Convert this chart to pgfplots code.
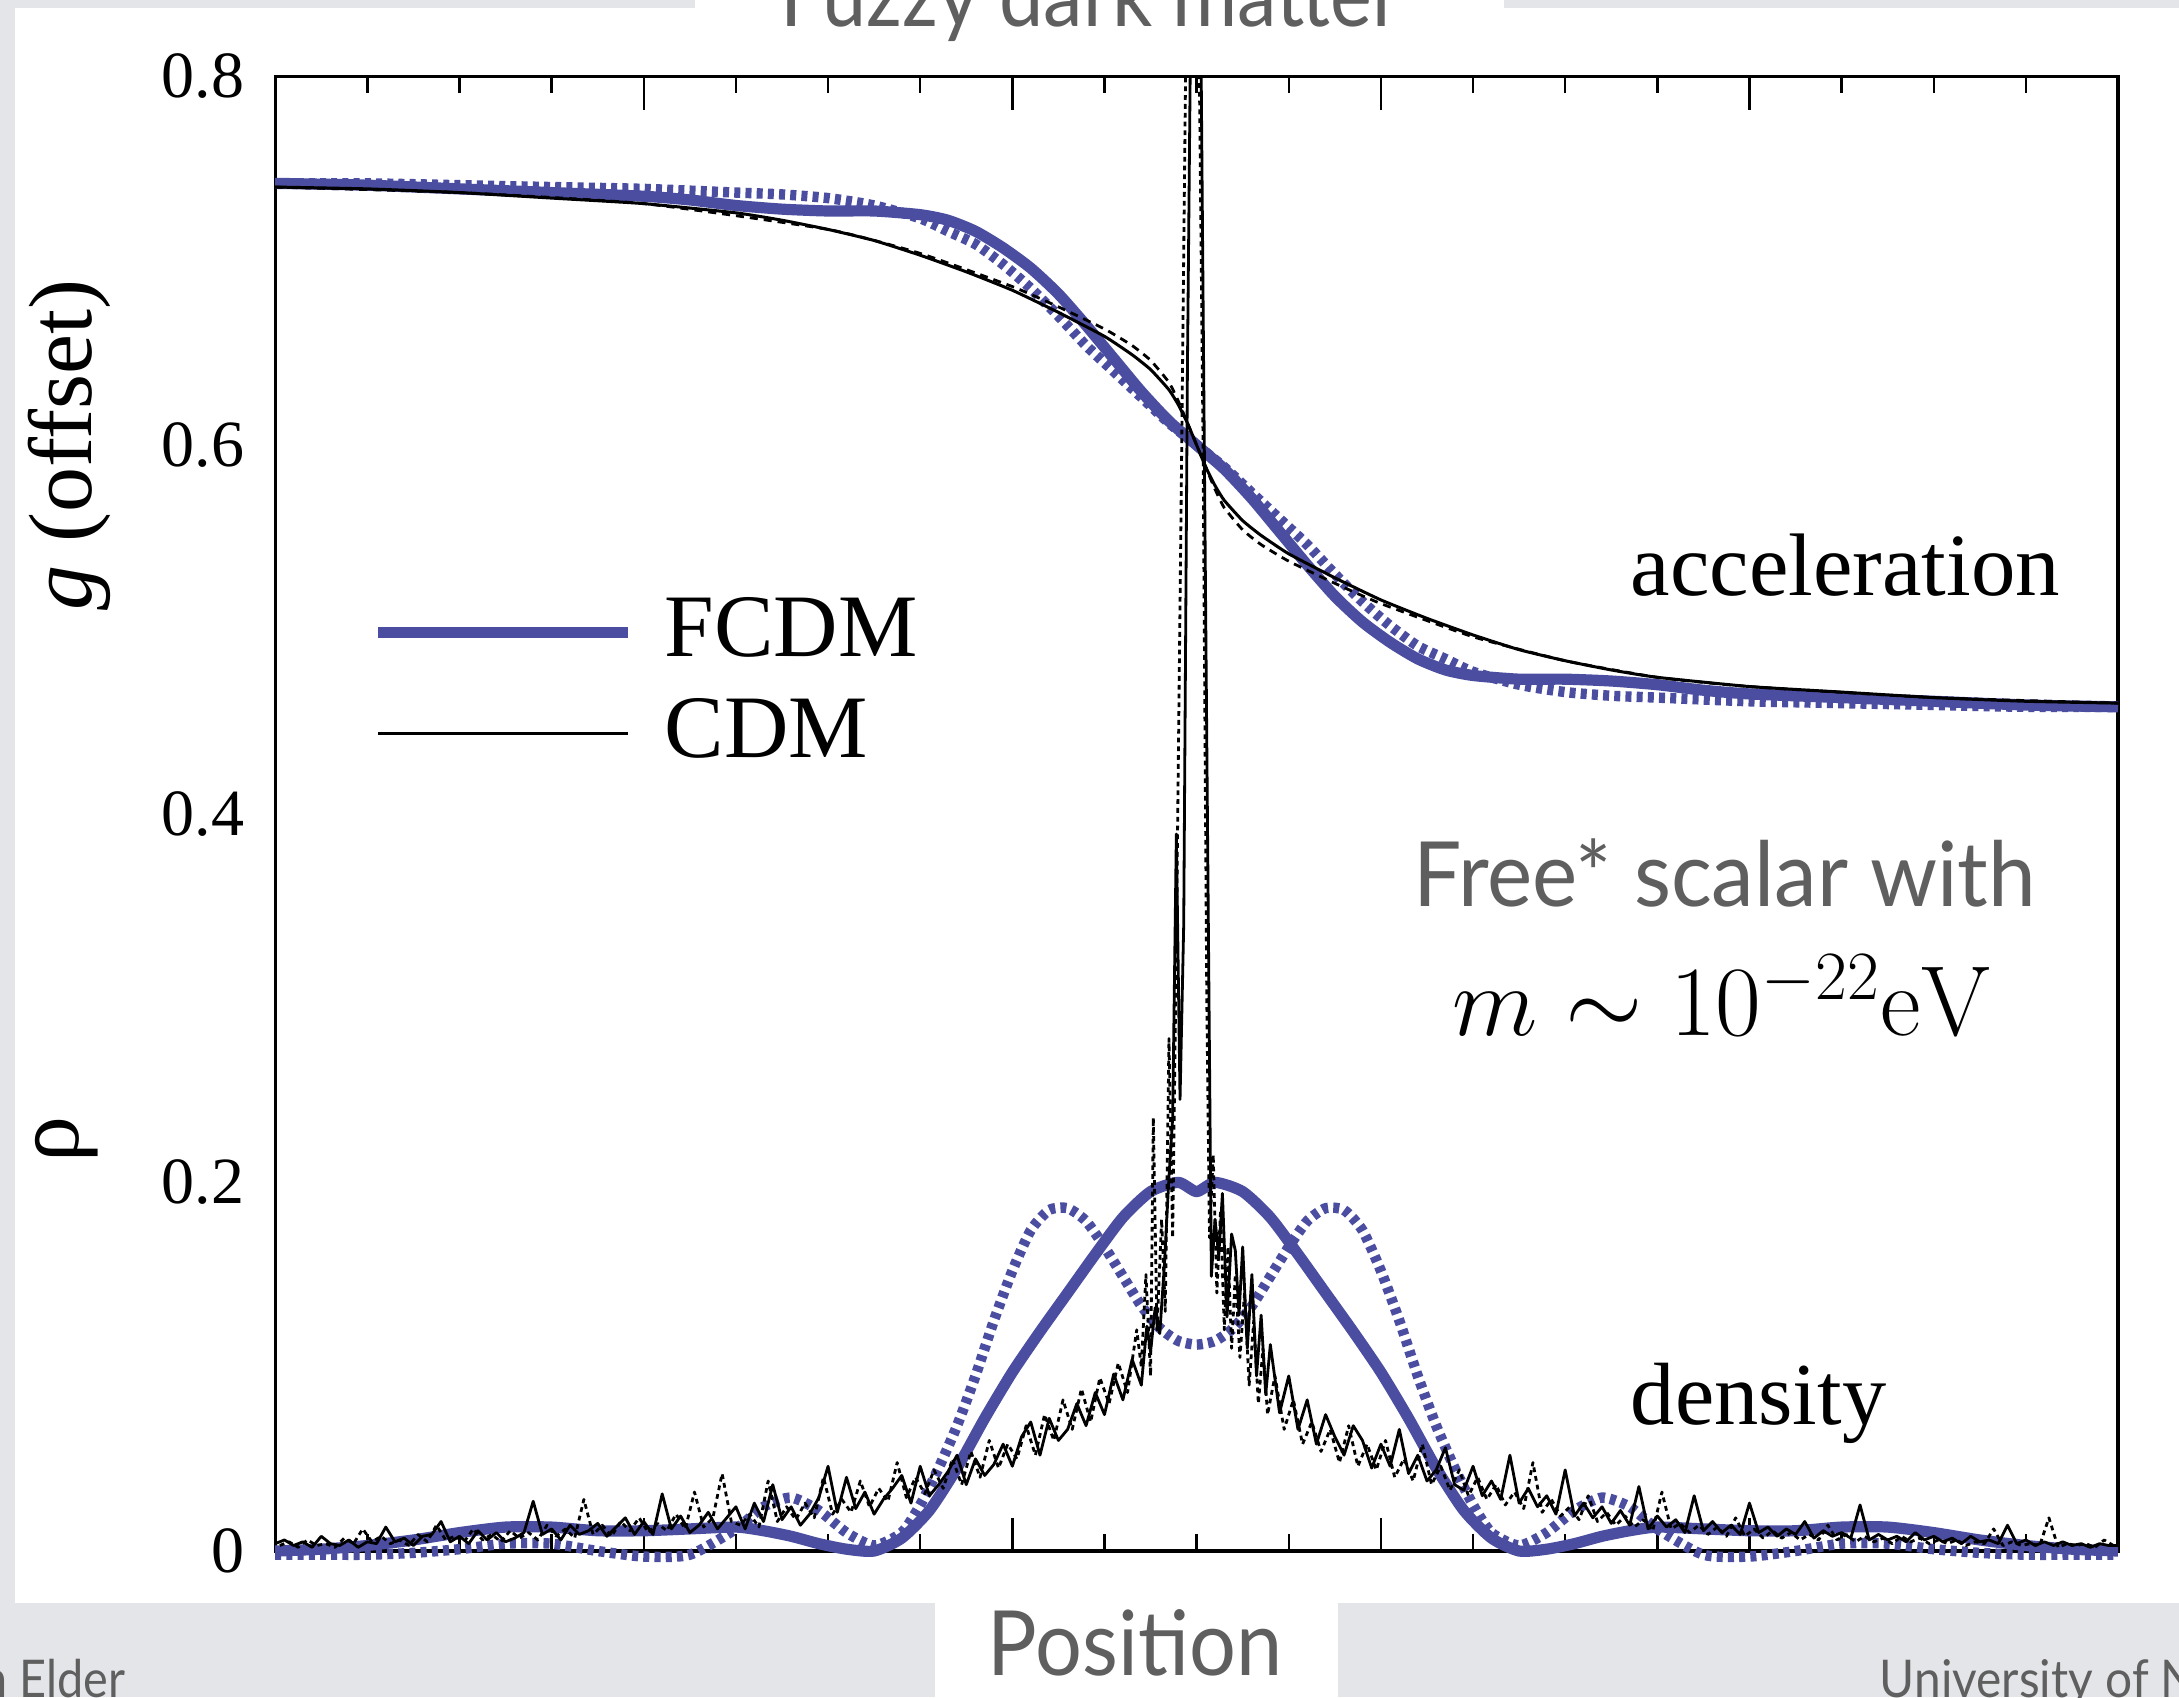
\documentclass[border=0pt]{standalone}
\usepackage[no-math]{fontspec}
\setmainfont{Liberation Serif}
\newfontfamily\slidefont{Lato}
\DeclareSymbolFont{operators}{OT1}{cmr}{m}{n}
\usepackage{pgfplots}
\pgfplotsset{compat=1.18}
\definecolor{fblue}{RGB}{75,78,160}
\definecolor{bggray}{RGB}{227,229,232}
\definecolor{slidetext}{RGB}{95,95,95}
\begin{document}
\begin{tikzpicture}[x=1pt,y=1pt]
\useasboundingbox (0,0) rectangle (544.75,424.25);
\clip (0,0) rectangle (544.75,424.25);
\fill[bggray] (0,0) rectangle (544.75,424.25);
\fill[white] (3.75,23.5) rectangle (544.75,422.25);
\fill[white] (173.75,421) rectangle (376,424.25);
\fill[white] (233.8,0) rectangle (334.6,23.6);
\node[anchor=base, text=slidetext, font=\slidefont\fontsize{22}{22}\selectfont, inner sep=0pt] at (272.75,417.5) {\scalebox{0.9}[1]{Fuzzy dark matter}};
\node[anchor=base, text=slidetext, font=\slidefont\fontsize{22.5}{22.5}\selectfont, inner sep=0pt] at (283.75,5.5) {\scalebox{0.92}[1]{Position}};
\node[anchor=base east, text=slidetext, font=\slidefont\fontsize{13}{13}\selectfont, inner sep=0pt] at (31.5,0) {\scalebox{0.9}[1]{Benjamin Elder}};
\node[anchor=base west, text=slidetext, font=\slidefont\fontsize{13}{13}\selectfont, inner sep=0pt] at (469.75,0) {\scalebox{0.92}[1]{University of Nottingham}};
\begin{axis}[
  at={(68.8pt,36.5pt)}, anchor=south west,
  scale only axis, width=460.7pt, height=368.65pt,
  xmin=0, xmax=20, ymin=0, ymax=0.8,
  clip=false,
  axis line style={line width=0.8pt},
  tick align=inside,
  every tick/.style={black, line width=0.6pt},
  major tick length=8.3pt, minor tick length=4.2pt,
  xtick={4,8,12,16}, xticklabels={},
  minor xtick={1,2,3,5,6,7,9,10,11,13,14,15,17,18,19},
  ytick={0,0.2,0.4,0.6,0.8}, yticklabels={0,0.2,0.4,0.6,0.8},
  ytick style={draw=none},
  minor ytick={0.05,0.1,0.15,0.2,0.25,0.3,0.35,0.4,0.45,0.5,0.55,0.6,0.65,0.7,0.75},
  yticklabel style={font=\fontsize{16.5}{16.5}\selectfont, anchor=east, inner sep=0pt, xshift=-7.6pt},
  every axis plot/.append style={line join=round},
]
% ---------- acceleration (FCDM) ----------
\addplot[fblue, line width=2.8pt, smooth, tension=0.4] coordinates {
(0,0.742) (1,0.741) (2,0.739) (3,0.737) (4,0.735) (4.5,0.733) (5,0.730) (5.5,0.728) (6,0.727) (6.5,0.727) (7,0.725) (7.3,0.722) (7.6,0.716) (7.9,0.707) (8.2,0.696) (8.5,0.682) (8.8,0.665) (9.1,0.647) (9.4,0.629) (9.7,0.613) (10,0.600)
(10.3,0.587) (10.6,0.571) (10.9,0.553) (11.2,0.535) (11.5,0.518) (11.8,0.504) (12.1,0.493) (12.4,0.484) (12.7,0.478) (13,0.475) (13.5,0.473) (14,0.473) (14.5,0.472) (15,0.470) (15.5,0.467) (16,0.465) (17,0.463) (18,0.461) (19,0.459) (20,0.458)};
\addplot[fblue, line width=2.6pt, dash pattern=on 1.5pt off 1.3pt, smooth, tension=0.4] coordinates {
(0,0.742) (1,0.742) (2,0.741) (3,0.740) (4,0.739) (5,0.737) (5.5,0.736) (6,0.734) (6.5,0.730) (7,0.723) (7.3,0.716) (7.6,0.709) (7.9,0.698) (8.2,0.685) (8.5,0.670) (8.8,0.654) (9.1,0.640) (9.4,0.626) (9.7,0.612) (10,0.600)
(10.3,0.588) (10.6,0.574) (10.9,0.560) (11.2,0.546) (11.5,0.530) (11.8,0.515) (12.1,0.502) (12.4,0.491) (12.7,0.484) (13,0.477) (13.5,0.470) (14,0.466) (14.5,0.464) (15,0.463) (16,0.461) (17,0.460) (18,0.459) (19,0.458) (20,0.458)};
% ---------- density (FCDM) ----------
\addplot[fblue, line width=2.8pt, smooth, tension=0.4] coordinates {
(0,0.000) (0.5,0.001) (1,0.003) (1.5,0.006) (2,0.010) (2.5,0.013) (3,0.013) (3.5,0.011) (4,0.011) (4.5,0.012) (5,0.013) (5.3,0.011) (5.6,0.008) (5.9,0.004) (6.2,0.001) (6.5,0.000) (6.8,0.007) (7.1,0.022) (7.4,0.045) (7.7,0.072) (8,0.097) (8.3,0.119) (8.6,0.140) (8.9,0.161) (9.2,0.181) (9.5,0.195) (9.8,0.200) (10,0.195)
(10.2,0.200) (10.5,0.195) (10.8,0.181) (11.1,0.161) (11.4,0.140) (11.7,0.119) (12,0.097) (12.3,0.072) (12.6,0.045) (12.9,0.022) (13.2,0.007) (13.5,0.000) (13.8,0.001) (14.1,0.004) (14.4,0.008) (14.7,0.011) (15,0.013) (15.5,0.012) (16,0.011) (16.5,0.011) (17,0.013) (17.5,0.013) (18,0.010) (18.5,0.006) (19,0.003) (19.5,0.001) (20,0.000)};
\addplot[fblue, line width=2.6pt, dash pattern=on 1.5pt off 1.3pt, smooth, tension=0.4] coordinates {
(0,-0.002) (0.5,-0.002) (1,-0.002) (1.5,-0.001) (2,0.001) (2.5,0.004) (3,0.004) (3.5,0.000) (4,-0.003) (4.5,-0.002) (5,0.012) (5.3,0.024) (5.6,0.029) (5.9,0.022) (6.2,0.010) (6.5,0.003) (6.8,0.010) (7,0.025) (7.2,0.045) (7.4,0.068) (7.6,0.095) (7.8,0.125) (8,0.152) (8.2,0.174) (8.4,0.185) (8.6,0.186) (8.8,0.179) (9,0.165) (9.2,0.149) (9.4,0.133) (9.6,0.121) (9.8,0.114) (10,0.112)
(10.2,0.114) (10.4,0.121) (10.6,0.133) (10.8,0.149) (11,0.165) (11.2,0.179) (11.4,0.186) (11.6,0.185) (11.8,0.174) (12,0.152) (12.2,0.125) (12.4,0.095) (12.6,0.068) (12.8,0.045) (13,0.025) (13.2,0.010) (13.5,0.003) (13.8,0.010) (14.1,0.022) (14.4,0.029) (14.7,0.024) (15,0.012) (15.5,-0.002) (16,-0.003) (16.5,0.000) (17,0.004) (17.5,0.004) (18,0.001) (18.5,-0.001) (19,-0.002) (19.5,-0.002) (20,-0.002)};
% ---------- acceleration (CDM) ----------
\addplot[black, line width=0.75pt, smooth, tension=0.3] coordinates {
(0,0.740) (1,0.739) (2,0.737) (3,0.734) (4,0.731) (5,0.726) (5.5,0.722) (6,0.717) (6.5,0.711) (7,0.703) (7.5,0.694) (8,0.684) (8.5,0.672) (9,0.659) (9.3,0.649) (9.5,0.641) (9.7,0.630) (9.8,0.622) (9.9,0.612) (10,0.600) (10.1,0.588) (10.2,0.578) (10.3,0.570) (10.5,0.559) (10.7,0.551) (11,0.541) (11.5,0.528) (12,0.516) (12.5,0.506) (13,0.497) (13.5,0.489) (14,0.483) (14.5,0.478) (15,0.474) (16,0.469) (17,0.466) (18,0.463) (19,0.461) (20,0.460)};
\addplot[black, line width=0.7pt, dash pattern=on 2pt off 1.5pt, smooth, tension=0.3] coordinates {
(0,0.740) (2,0.737) (4,0.731) (6,0.717) (7,0.704) (8,0.686) (8.5,0.675) (9,0.663) (9.3,0.654) (9.5,0.646) (9.7,0.634) (9.8,0.624) (9.9,0.612) (10,0.600) (10.1,0.588) (10.2,0.576) (10.3,0.566) (10.5,0.554) (10.7,0.546) (11,0.537) (11.5,0.525) (12,0.514) (13,0.496) (14,0.483) (15,0.474) (16,0.469) (18,0.463) (20,0.460)};
% ---------- density (CDM) ----------
\addplot[black, line width=0.7pt] coordinates {
(0.0,0.004) (0.1,0.006) (0.2,0.003) (0.3,0.005) (0.4,0.002) (0.5,0.008) (0.6,0.004) (0.7,0.003) (0.8,0.006) (0.9,0.002) (1.0,0.005) (1.1,0.004) (1.2,0.013) (1.3,0.005) (1.4,0.007) (1.5,0.003) (1.6,0.008) (1.7,0.009) (1.8,0.016) (1.9,0.005) (2.0,0.008) (2.1,0.004) (2.2,0.011) (2.3,0.006) (2.4,0.010) (2.5,0.005) (2.6,0.007) (2.7,0.010) (2.8,0.027) (2.9,0.009) (3.0,0.012) (3.1,0.006) (3.2,0.014) (3.3,0.009) (3.4,0.011) (3.5,0.015) (3.6,0.008) (3.7,0.013) (3.8,0.018) (3.9,0.009) (4.0,0.016) (4.1,0.009) (4.2,0.031) (4.3,0.012) (4.4,0.019) (4.5,0.010) (4.6,0.014) (4.7,0.021) (4.8,0.012) (4.9,0.018) (5.0,0.024) (5.1,0.012) (5.2,0.026) (5.3,0.016) (5.4,0.036) (5.5,0.017) (5.6,0.024) (5.7,0.014) (5.8,0.020) (5.9,0.029) (6.0,0.046) (6.1,0.021) (6.2,0.040) (6.3,0.023) (6.4,0.032) (6.5,0.020) (6.6,0.028) (6.7,0.034) (6.8,0.041) (6.9,0.026) (7.0,0.046) (7.1,0.030) (7.2,0.036) (7.3,0.043) (7.4,0.052) (7.5,0.036) (7.6,0.050) (7.7,0.041) (7.8,0.047) (7.9,0.058) (8.0,0.046) (8.1,0.062) (8.2,0.070) (8.3,0.052) (8.4,0.072) (8.5,0.060) (8.6,0.066) (8.7,0.080) (8.8,0.068) (8.9,0.086) (9.0,0.074) (9.1,0.096) (9.2,0.082) (9.3,0.104) (9.4,0.090)
(9.46,0.122) (9.50,0.108) (9.55,0.132) (9.60,0.118) (9.65,0.155) (9.70,0.203) (9.74,0.235) (9.78,0.389) (9.82,0.245) (9.86,0.340) (9.90,0.640) (9.93,0.800) (10.05,0.800) (10.10,0.500) (10.16,0.149) (10.20,0.180) (10.24,0.160) (10.28,0.194) (10.33,0.127) (10.38,0.172) (10.42,0.163) (10.46,0.128) (10.50,0.165) (10.55,0.110) (10.60,0.150) (10.65,0.095) (10.70,0.128) (10.75,0.085)
(10.8,0.112) (10.9,0.075) (11.0,0.095) (11.1,0.066) (11.2,0.082) (11.3,0.058) (11.4,0.074) (11.5,0.062) (11.6,0.052) (11.7,0.068) (11.8,0.060) (11.9,0.045) (12.0,0.058) (12.1,0.046) (12.2,0.066) (12.3,0.042) (12.4,0.052) (12.5,0.038) (12.6,0.044) (12.7,0.056) (12.8,0.036) (12.9,0.033) (13.0,0.046) (13.1,0.030) (13.2,0.038) (13.3,0.028) (13.4,0.052) (13.5,0.026) (13.6,0.034) (13.7,0.024) (13.8,0.030) (13.9,0.020) (14.0,0.044) (14.1,0.019) (14.2,0.026) (14.3,0.018) (14.4,0.024) (14.5,0.015) (14.6,0.022) (14.7,0.014) (14.8,0.035) (14.9,0.012) (15.0,0.019) (15.1,0.013) (15.2,0.017) (15.3,0.010) (15.4,0.030) (15.5,0.011) (15.6,0.016) (15.7,0.010) (15.8,0.014) (15.9,0.009) (16.0,0.026) (16.1,0.010) (16.2,0.013) (16.3,0.008) (16.4,0.012) (16.5,0.009) (16.6,0.016) (16.7,0.007) (16.8,0.011) (16.9,0.008) (17.0,0.010) (17.1,0.007) (17.2,0.025) (17.3,0.006) (17.4,0.009) (17.5,0.006) (17.6,0.008) (17.7,0.005) (17.8,0.010) (17.9,0.006) (18.0,0.008) (18.1,0.005) (18.2,0.007) (18.3,0.004) (18.4,0.008) (18.5,0.005) (18.6,0.006) (18.7,0.004) (18.8,0.014) (18.9,0.004) (19.0,0.006) (19.1,0.003) (19.2,0.005) (19.3,0.003) (19.4,0.005) (19.5,0.003) (19.6,0.004) (19.7,0.002) (19.8,0.004) (19.9,0.003) (20.0,0.003)};
\addplot[black, line width=0.7pt, dash pattern=on 1.2pt off 1pt] coordinates {
(0.05,0.003) (0.15,0.005) (0.25,0.002) (0.35,0.006) (0.45,0.003) (0.55,0.004) (0.65,0.002) (0.75,0.007) (0.85,0.004) (0.95,0.012) (1.05,0.005) (1.15,0.008) (1.25,0.004) (1.35,0.006) (1.45,0.003) (1.55,0.009) (1.65,0.005) (1.75,0.014) (1.85,0.006) (1.95,0.008) (2.05,0.005) (2.15,0.012) (2.25,0.006) (2.35,0.009) (2.45,0.005) (2.55,0.011) (2.65,0.007) (2.75,0.010) (2.85,0.006) (2.95,0.014) (3.05,0.008) (3.15,0.012) (3.25,0.007) (3.35,0.028) (3.45,0.009) (3.55,0.014) (3.65,0.008) (3.75,0.016) (3.85,0.011) (3.95,0.018) (4.05,0.010) (4.15,0.015) (4.25,0.011) (4.35,0.020) (4.45,0.012) (4.55,0.032) (4.65,0.013) (4.75,0.018) (4.85,0.042) (4.95,0.016) (5.05,0.014) (5.15,0.020) (5.25,0.013) (5.35,0.038) (5.45,0.016) (5.55,0.024) (5.65,0.017) (5.75,0.026) (5.85,0.018) (5.95,0.040) (6.05,0.020) (6.15,0.028) (6.25,0.021) (6.35,0.038) (6.45,0.024) (6.55,0.034) (6.65,0.027) (6.75,0.048) (6.85,0.029) (6.95,0.040) (7.05,0.031) (7.15,0.044) (7.25,0.034) (7.35,0.050) (7.45,0.036) (7.55,0.054) (7.65,0.040) (7.75,0.060) (7.85,0.045) (7.95,0.058) (8.05,0.050) (8.15,0.068) (8.25,0.052) (8.35,0.074) (8.45,0.060) (8.55,0.082) (8.65,0.066) (8.75,0.088) (8.85,0.070) (8.95,0.094) (9.05,0.080) (9.15,0.102) (9.25,0.086) (9.35,0.120)
(9.40,0.100) (9.45,0.150) (9.50,0.095) (9.53,0.235) (9.57,0.120) (9.62,0.180) (9.66,0.130) (9.70,0.278) (9.74,0.170) (9.78,0.330) (9.83,0.560) (9.88,0.800) (10.03,0.800) (10.07,0.600) (10.11,0.300) (10.14,0.170) (10.18,0.215) (10.22,0.140) (10.26,0.185) (10.30,0.120) (10.34,0.165) (10.38,0.110) (10.42,0.150) (10.47,0.105) (10.52,0.140) (10.57,0.090) (10.62,0.125) (10.67,0.080) (10.72,0.110) (10.77,0.074)
(10.85,0.095) (10.95,0.066) (11.05,0.082) (11.15,0.058) (11.25,0.070) (11.35,0.054) (11.45,0.066) (11.55,0.048) (11.65,0.068) (11.75,0.046) (11.85,0.058) (11.95,0.044) (12.05,0.060) (12.15,0.040) (12.25,0.050) (12.35,0.038) (12.45,0.058) (12.55,0.036) (12.65,0.046) (12.75,0.033) (12.85,0.044) (12.95,0.030) (13.05,0.040) (13.15,0.028) (13.25,0.036) (13.35,0.025) (13.45,0.032) (13.55,0.023) (13.65,0.048) (13.75,0.021) (13.85,0.028) (13.95,0.019) (14.05,0.024) (14.15,0.017) (14.25,0.030) (14.35,0.016) (14.45,0.021) (14.55,0.014) (14.65,0.019) (14.75,0.013) (14.85,0.017) (14.95,0.011) (15.05,0.032) (15.15,0.012) (15.25,0.015) (15.35,0.010) (15.45,0.014) (15.55,0.009) (15.65,0.013) (15.75,0.008) (15.85,0.018) (15.95,0.008) (16.05,0.012) (16.15,0.007) (16.25,0.011) (16.35,0.007) (16.45,0.010) (16.55,0.006) (16.65,0.009) (16.75,0.006) (16.85,0.014) (16.95,0.006) (17.05,0.009) (17.15,0.005) (17.25,0.008) (17.35,0.005) (17.45,0.007) (17.55,0.004) (17.65,0.008) (17.75,0.005) (17.85,0.007) (17.95,0.004) (18.05,0.006) (18.15,0.004) (18.25,0.006) (18.35,0.003) (18.45,0.005) (18.55,0.004) (18.65,0.012) (18.75,0.003) (18.85,0.005) (18.95,0.003) (19.05,0.004) (19.15,0.003) (19.25,0.018) (19.35,0.002) (19.45,0.004) (19.55,0.003) (19.65,0.004) (19.75,0.002) (19.85,0.006) (19.95,0.003)};
\end{axis}
% legend
\draw[fblue, line width=2.9pt] (94.5,266.1) -- (157,266.1);
\draw[black, line width=0.75pt] (94.5,240.8) -- (157,240.8);
\node[anchor=base west, inner sep=0pt, font=\fontsize{22.3}{22.3}\selectfont] at (166,260.25) {FCDM};
\node[anchor=base west, inner sep=0pt, font=\fontsize{22.3}{22.3}\selectfont] at (166,235) {CDM};
% annotations
\node[anchor=base west, inner sep=0pt, font=\fontsize{22.2}{22.2}\selectfont] at (407.5,275.5) {acceleration};
\node[anchor=base west, inner sep=0pt, font=\fontsize{22.1}{22.1}\selectfont] at (407.5,68.1) {density};
\node[anchor=base, inner sep=0pt, text=slidetext, font=\slidefont\fontsize{22.5}{22.5}\selectfont] at (431.2,197.7) {\scalebox{0.95}[1]{Free* scalar with}};
\node[anchor=base, inner sep=0pt, font=\fontsize{24.6}{24.6}\selectfont] at (430.5,165.4) {$m\sim 10^{-22}\mathrm{eV}$};
% y labels
\node[rotate=90, anchor=center, inner sep=0pt, font=\fontsize{22.5}{22.5}\selectfont] at (17.4,313) {\textit{g} (offset)};
\node[rotate=90, anchor=center, inner sep=0pt, font=\fontsize{23}{23}\selectfont] at (16.7,139.4) {ρ};
\end{tikzpicture}
\end{document}
